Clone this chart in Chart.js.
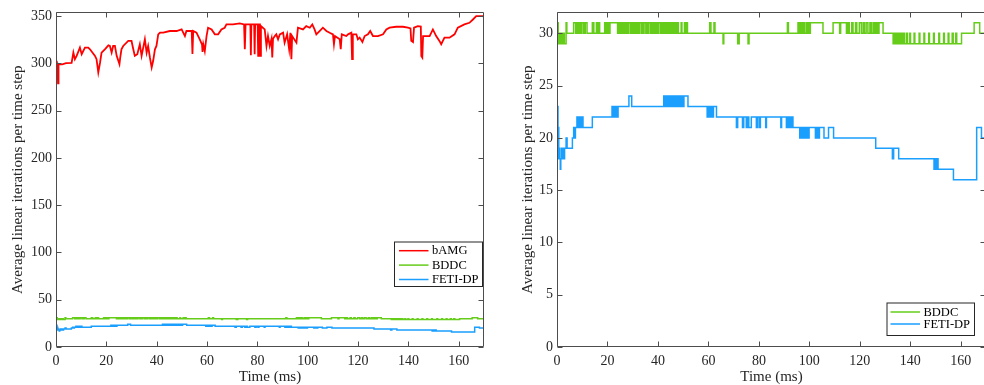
<!DOCTYPE html>
<html>
<head>
<meta charset="utf-8">
<script src="https://cdn.jsdelivr.net/npm/chart.js@4.4.1/dist/chart.umd.min.js"></script>
<style>
  html, body { margin: 0; padding: 0; background: #fff; width: 984px; height: 385px; overflow: hidden; }
  canvas { position: absolute; top: 0; }
  #c1 { left: 0; }
  #c2 { left: 500px; }
</style>
</head>
<body>
<canvas id="c1" width="500" height="385"></canvas>
<canvas id="c2" width="500" height="385"></canvas>
<script>
// ---------- DATA ----------
const xTitle = 'Time (ms)';
const yTitle = 'Average linear iterations per time step';

// bAMG: [time (ms), iterations]
const bamgSamples = [[0,302.8],[0.3,301],[0.6,300],[0.8,279],[1.0,299.3],[2.5,299],[4.0,300.3],[6.2,300.5],[6.9,311.5],[7.5,304.5],
  [8.2,308],[9.5,316.8],[10.2,309.8],[11.5,316.8],[12.8,316.8],[13.5,315],[15.5,308],[16.1,304.5],[16.8,290.6],[17.5,301],
  [18.1,311.5],[19.4,315],[20.8,319.2],[21.4,318.5],[22.1,311.5],[22.7,318.5],[23.4,318.5],[24.1,308],[25.2,299.3],[25.5,306],
  [26.0,315],[26.7,318.5],[28.7,323.8],[30.0,323.8],[30.7,315],[31.3,308],[32.3,309.8],[33.3,320.3],[34.0,308],[35.3,325.5],
  [36.0,311.5],[36.6,318.5],[37.3,306.3],[38.0,295.8],[38.6,302.8],[39.3,315],[39.9,318.5],[40.6,330.8],[41.3,332.5],[42.6,332.5],
  [45.2,334.3],[47.9,334.3],[49.9,336],[51.2,329],[51.8,334.3],[53.9,334.3],[54.2,310],[54.5,334.3],[55.8,332.5],[57.1,325.5],
  [58.0,320],[58.2,312.2],[58.5,320.3],[59.1,313],[59.8,329],[60.4,337.8],[61.8,336],[63.1,330.8],[64.4,330.8],[65.7,336],
  [67.0,337.8],[67.7,341.3],[70.3,341.3],[73.0,342.3],[74.7,341.3],[75.0,315],[75.3,341.3],[77.2,341.3],[77.4,308.7],[77.6,341.3],
  [78.7,341.3],[78.9,309.8],[79.1,341.3],[80.1,341.3],[80.3,308],[80.5,341.3],[81.0,341.3],[81.2,308],[81.4,339.5],[82.9,336],
  [83.6,318.5],[84.2,329],[84.9,318.5],[85.6,326],[85.9,306.3],[86.2,326],[86.9,329],[87.5,330.8],[88.2,325.5],[88.9,330.8],
  [90.2,332.5],[90.8,322],[91.8,330.8],[92.6,315],[93.1,332.5],[93.5,304.5],[93.8,329],[95.5,322],[96.1,337.8],[98.1,336],
  [99.4,339.5],[100.8,337.8],[101.8,341.3],[102.7,336],[103.4,330.8],[104.7,334.3],[106.0,337.8],[107.4,334.3],[108.7,332.5],[110.0,330.8],
  [110.4,320.3],[110.8,329],[112.7,325.5],[113.1,315],[113.5,330.8],[115.3,329],[116.0,330.8],[117.3,332.5],[117.6,304.5],[117.9,330.8],
  [119.3,330.8],[119.9,325.5],[120.6,327.3],[121.7,322.7],[122.6,329],[123.9,330.8],[124.8,334.3],[125.9,329],[127.9,329],[129.9,330.8],
  [131.2,336],[132.5,337.8],[135.1,338.8],[137.8,338.8],[139.8,337.8],[140.8,337],[141.1,324],[141.8,322.7],[142.2,337.8],[143.7,339.5],
  [144.9,339],[145.1,308],[145.5,306.3],[145.8,329],[147.0,329],[148.4,329],[149.7,336],[151.0,329],[152.3,323.8],[153.0,320.3],
  [154.3,327.3],[156.3,327.3],[158.3,330.8],[159.6,337.8],[162.2,341.3],[164.2,343],[165.6,346.5],[166.9,350],[169.5,350],[170,349.5]];

// BDDC: step changes (time, new value)
const bddcTime = [0, 0.5, 0.7, 1.0, 1.2, 1.5, 1.7, 2.0, 2.3, 2.6, 2.9, 3.6, 3.9, 6.6, 7.4, 7.7, 8.3, 8.7, 9.3, 9.6,
  10.3, 10.6, 11.0, 11.2, 11.9, 14.0, 14.6, 15.6, 16.0, 16.3, 16.9, 18.9, 19.4, 19.8, 20.4, 21.0, 24.0, 24.3, 24.8, 25.1,
  25.7, 26.0, 26.4, 26.7, 27.3, 27.6, 28.0, 28.3, 29.0, 29.3, 29.8, 30.1, 30.6, 30.9, 31.5, 31.8, 32.2, 32.6, 33.3, 33.7,
  34.1, 34.5, 35.2, 35.6, 36.0, 36.4, 37.1, 37.5, 38.0, 38.4, 39.0, 39.4, 39.9, 40.3, 41.0, 41.4, 41.8, 42.3, 42.9, 43.4,
  44.0, 44.4, 45.0, 45.6, 46.1, 46.6, 47.2, 47.8, 48.1, 49.2, 49.5, 50.5, 50.8, 51.4, 51.7, 60.5, 61.0, 62.2, 62.6, 65.8,
  66.1, 71.6, 72.2, 75.7, 76.1, 91.3, 91.7, 95.5, 95.9, 96.3, 96.6, 97.1, 97.5, 97.8, 98.1, 98.8, 99.2, 99.6, 100.0, 100.4,
  105.4, 109.4, 112.0, 112.4, 114.7, 115.3, 115.8, 116.8, 117.3, 118.3, 118.8, 119.8, 120.6, 121.3, 121.8, 122.5, 123.2, 124.0, 124.6, 125.3,
  125.8, 126.4, 127.0, 127.6, 129.2, 133.2, 133.8, 134.1, 134.6, 134.9, 135.3, 135.6, 136.0, 136.3, 136.7, 137.0, 137.5, 137.8, 138.6, 138.9,
  139.8, 140.1, 141.5, 141.8, 143.5, 143.8, 145.4, 145.7, 147.3, 147.6, 149.2, 149.5, 151.3, 151.6, 153.2, 153.5, 155.0, 155.3, 156.6, 157.0,
  158.0, 158.4, 160.3, 165.3, 167.5, 170];
const bddcIter = [31, 30, 29, 30, 29, 30, 29, 30, 29, 30, 29, 31, 30, 31, 30, 31, 30, 31, 30, 31,
  30, 31, 30, 31, 30, 31, 30, 31, 30, 31, 30, 31, 30, 31, 30, 31, 30, 31, 30, 31,
  30, 31, 30, 31, 30, 31, 30, 31, 30, 31, 30, 31, 30, 31, 30, 31, 30, 31, 30, 31,
  30, 31, 30, 31, 30, 31, 30, 31, 30, 31, 30, 31, 30, 31, 30, 31, 30, 31, 30, 31,
  30, 31, 30, 31, 30, 31, 30, 31, 30, 31, 30, 31, 30, 31, 30, 31, 30, 31, 30, 29,
  30, 29, 30, 29, 30, 31, 30, 31, 30, 31, 30, 31, 30, 31, 30, 31, 30, 31, 30, 31,
  30, 31, 30, 31, 30, 31, 30, 31, 30, 31, 30, 31, 30, 31, 30, 31, 30, 31, 30, 31,
  30, 31, 30, 31, 30, 29, 30, 29, 30, 29, 30, 29, 30, 29, 30, 29, 30, 29, 30, 29,
  30, 29, 30, 29, 30, 29, 30, 29, 30, 29, 30, 29, 30, 29, 30, 29, 30, 29, 30, 29,
  30, 29, 30, 31, 30, 30];

// FETI-DP: step changes (time, new value)
const fetiTime = [0, 0.4, 0.7, 0.9, 1.1, 1.3, 1.5, 1.8, 2.1, 2.4, 2.7, 3.0, 3.6, 4.0, 6.1, 6.6, 7.0, 7.3, 7.9, 8.2,
  8.5, 8.9, 9.2, 9.6, 9.9, 10.3, 14.0, 21.8, 22.2, 22.6, 23.0, 23.4, 23.8, 24.2, 28.5, 29.6, 42.3, 42.8, 43.2, 43.8,
  44.3, 44.9, 45.3, 45.9, 46.4, 46.9, 47.4, 48.0, 48.4, 49.0, 49.4, 49.9, 50.3, 51.9, 59.5, 60.0, 60.5, 61.0, 61.6, 62.0,
  63.2, 71.1, 71.6, 73.5, 74.0, 75.0, 75.4, 76.0, 77.0, 79.0, 79.5, 80.2, 80.6, 82.7, 83.0, 88.7, 89.0, 90.9, 91.3, 91.8,
  92.2, 92.7, 93.1, 93.5, 96.2, 96.6, 97.0, 97.5, 97.9, 98.4, 98.8, 99.3, 99.6, 99.9, 102.4, 102.9, 103.5, 104.0, 105.8, 107.6,
  109.6, 126.3, 132.9, 133.4, 135.4, 149.4, 149.8, 150.2, 150.6, 151.0, 157.1, 166.3, 168.2, 170];
const fetiIter = [23, 21, 18, 19, 18, 17, 18, 19, 18, 19, 18, 19, 20, 19, 20, 21, 20, 21, 22, 21,
  22, 21, 22, 21, 22, 21, 22, 23, 22, 23, 22, 23, 22, 23, 24, 23, 24, 23, 24, 23,
  24, 23, 24, 23, 24, 23, 24, 23, 24, 23, 24, 23, 24, 23, 22, 23, 22, 23, 22, 23,
  22, 21, 22, 21, 22, 21, 22, 21, 22, 21, 22, 21, 22, 21, 22, 21, 22, 21, 22, 21,
  22, 21, 22, 21, 20, 21, 20, 21, 20, 21, 20, 21, 20, 21, 20, 21, 20, 21, 20, 21,
  20, 19, 18, 19, 18, 17, 18, 17, 18, 17, 16, 21, 20, 20];

const xTickStep = 20;
const xRange = [0, 170];
const leftYRange = [0, 354], leftYStep = 50;
const rightYRange = [0, 32], rightYStep = 5;

// ---------- STYLE ----------
const COLORS = { bAMG: '#ff0000', BDDC: '#66cc1a', 'FETI-DP': '#1a9fff' };
const WIDTHS = { bAMG: 1.8, BDDC: 1.5, 'FETI-DP': 1.5 };
const SERIF = "'Liberation Serif', 'Times New Roman', serif";
const TEXT = '#262626';
const AXIS = '#4d4d4d';

const pts = (t, v) => t.map((x, i) => ({ x, y: v[i] }));

function ds(name, data, stepped) {
  return {
    label: name, data, borderColor: COLORS[name], backgroundColor: COLORS[name],
    borderWidth: WIDTHS[name], pointRadius: 0, tension: 0, stepped: stepped ? 'before' : false, fill: false
  };
}

const boxTicks = {
  id: 'boxTicks',
  afterDatasetsDraw(chart) {
    const { ctx, chartArea: a, scales: { x, y } } = chart;
    const L = 5;
    ctx.save();
    ctx.strokeStyle = AXIS; ctx.lineWidth = 1;
    const l = Math.round(a.left) + 0.5, r = Math.round(a.right) - 0.5;
    const t = Math.round(a.top) + 0.5, b = Math.round(a.bottom) - 0.5;
    ctx.beginPath();
    ctx.rect(l, t, r - l, b - t);
    x.ticks.forEach(tk => {
      const px = Math.round(x.getPixelForValue(tk.value)) + 0.5;
      ctx.moveTo(px, b); ctx.lineTo(px, b - L);
      ctx.moveTo(px, t); ctx.lineTo(px, t + L);
    });
    y.ticks.forEach(tk => {
      const py = Math.round(y.getPixelForValue(tk.value)) + 0.5;
      ctx.moveTo(l, py); ctx.lineTo(l + L, py);
      ctx.moveTo(r, py); ctx.lineTo(r - L, py);
    });
    ctx.stroke();
    ctx.restore();
  }
};

const boxLegend = {
  id: 'boxLegend',
  afterDraw(chart, args, o) {
    const { ctx } = chart;
    ctx.save();
    ctx.fillStyle = '#fff';
    ctx.fillRect(o.x, o.y, o.w, o.h);
    ctx.strokeStyle = '#262626'; ctx.lineWidth = 1;
    ctx.strokeRect(o.x + 0.5, o.y + 0.5, o.w, o.h);
    ctx.font = o.font;
    ctx.textBaseline = 'middle';
    chart.data.datasets.forEach((d, i) => {
      const cy = o.y + o.first + i * o.row;
      ctx.strokeStyle = d.borderColor; ctx.lineWidth = 1.5;
      ctx.beginPath(); ctx.moveTo(o.x + o.l0, cy); ctx.lineTo(o.x + o.l1, cy); ctx.stroke();
      ctx.fillStyle = '#000';
      ctx.fillText(d.label, o.x + o.tx, cy + 0.5);
    });
    ctx.restore();
  }
};

function makeOptions(yRange, yStep, yWidth, yTitlePad, pad, legend) {
  return {
    responsive: false, animation: false, devicePixelRatio: 1,
    layout: { padding: pad },
    plugins: { legend: { display: false }, tooltip: { enabled: false }, boxLegend: legend },
    scales: {
      x: {
        type: 'linear', min: xRange[0], max: xRange[1],
        grid: { display: false, drawTicks: false }, border: { display: false },
        ticks: { stepSize: xTickStep, includeBounds: false, padding: 6, color: TEXT, maxRotation: 0,
          font: { family: SERIF, size: 14 } },
        title: { display: true, text: xTitle, color: TEXT, padding: { top: 0, bottom: 0 },
          font: { family: SERIF, size: 15, lineHeight: 1.1 } },
        afterFit: s => { s.height = 38; }
      },
      y: {
        type: 'linear', min: yRange[0], max: yRange[1],
        grid: { display: false, drawTicks: false }, border: { display: false },
        ticks: { stepSize: yStep, includeBounds: false, padding: 4, color: TEXT,
          font: { family: SERIF, size: 14 } },
        title: { display: true, text: yTitle, color: TEXT, padding: { top: yTitlePad, bottom: 0 },
          font: { family: SERIF, size: 15, lineHeight: 1.2 } },
        afterFit: s => { s.width = yWidth; }
      }
    }
  };
}

const bamgData = bamgSamples.map(([x, y]) => ({ x, y }));
const bddcData = pts(bddcTime, bddcIter);
const fetiData = pts(fetiTime, fetiIter);

new Chart(document.getElementById('c1'), {
  type: 'line',
  data: { datasets: [
    ds('bAMG', bamgData, false),
    ds('BDDC', bddcData, true),
    ds('FETI-DP', fetiData, true)
  ] },
  options: makeOptions(leftYRange, leftYStep, 56, 9, { left: 0, right: 16, top: 9, bottom: 0 },
    { x: 394, y: 241.5, w: 88, h: 44.5, first: 9.2, row: 14.4, l0: 5, l1: 34.5, tx: 38, font: "12.5px " + SERIF }),
  plugins: [boxTicks, boxLegend]
});

new Chart(document.getElementById('c2'), {
  type: 'line',
  data: { datasets: [
    ds('BDDC', bddcData, true),
    ds('FETI-DP', fetiData, true)
  ] },
  options: makeOptions(rightYRange, rightYStep, 57, 19, { left: 0, right: 14, top: 8, bottom: 0 },
    { x: 386.5, y: 302.5, w: 87.5, h: 32.5, first: 9.5, row: 12, l0: 4, l1: 33.5, tx: 37, font: "12.5px " + SERIF }),
  plugins: [boxTicks, boxLegend]
});
</script>
</body>
</html>
